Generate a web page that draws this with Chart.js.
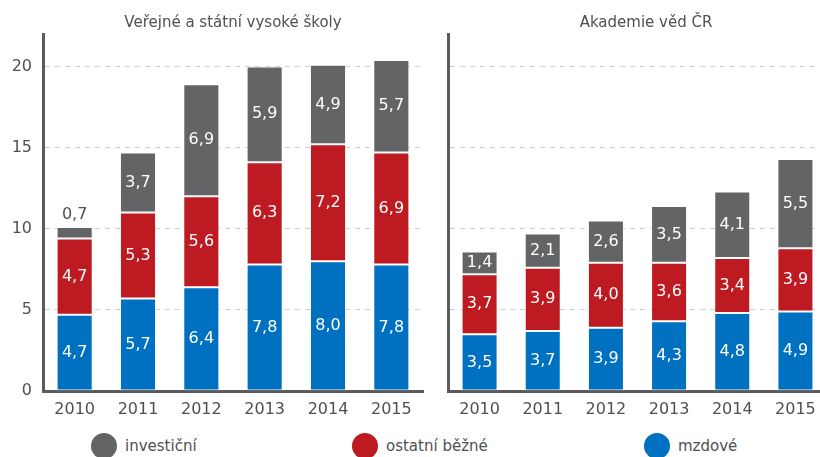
<!DOCTYPE html>
<html>
<head>
<meta charset="utf-8">
<script src="https://cdn.jsdelivr.net/npm/chart.js@4/dist/chart.umd.min.js"></script>
<style>
    html, body {
        margin: 0;
        padding: 0;
        background: #fff;
    }
    body {
        position: relative;
        width: 820px;
        height: 457px;
        overflow: hidden;
        font-family: "DejaVu Sans", sans-serif;
        color: #4f5052;
    }
    .panel {
        position: absolute;
        top: 0;
    }
    .panel-title {
        position: absolute;
        top: 13px;
        font-size: 15px;
        white-space: nowrap;
        transform: translateX(-50%);
    }
    .legend-item {
        position: absolute;
        top: 433px;
        display: flex;
        align-items: center;
        font-size: 15px;
        white-space: nowrap;
    }
    .legend-item .dot {
        width: 26px;
        height: 26px;
        border-radius: 50%;
        margin-right: 8px;
    }
</style>
</head>
<body>
<div class="panel" style="left:0;width:430px;height:425px"><canvas id="chart-vs"></canvas></div>
<div class="panel" style="left:430px;width:400px;height:425px"><canvas id="chart-av"></canvas></div>

<div class="panel-title" style="left:233px">Veřejné a státní vysoké školy</div>
<div class="panel-title" style="left:646px">Akademie věd ČR</div>

<div id="legend"></div>

<script>
// data
const years = ['2010', '2011', '2012', '2013', '2014', '2015'];
const seriesNames = ['mzdové', 'ostatní běžné', 'investiční'];
const seriesColors = ['#0070c0', '#be1a21', '#636466'];

// Veřejné a státní vysoké školy
const vsMzdove = [4.7, 5.7, 6.4, 7.8, 8.0, 7.8];
const vsOstatni = [4.7, 5.3, 5.6, 6.3, 7.2, 6.9];
const vsInvesticni = [0.7, 3.7, 6.9, 5.9, 4.9, 5.7];

// Akademie věd ČR
const avMzdove = [3.5, 3.7, 3.9, 4.3, 4.8, 4.9];
const avOstatni = [3.7, 3.9, 4.0, 3.6, 3.4, 3.9];
const avInvesticni = [1.4, 2.1, 2.6, 3.5, 4.1, 5.5];

const yTicks = [0, 5, 10, 15, 20];
const yMax = 22;

const textColor = '#4f5052';
const axisColor = '#5a5b5d';
const gridColor = '#cfcfcf';
const fontFamily = '"DejaVu Sans", sans-serif';

// labels written inside the segments, small ones go above the bar
const segmentLabels = {
    id: 'segmentLabels',
    afterDatasetsDraw(chart) {
        const ctx = chart.ctx;
        ctx.save();
        ctx.font = '16px ' + fontFamily;
        ctx.textAlign = 'center';
        ctx.textBaseline = 'middle';
        chart.data.datasets.forEach((ds, i) => {
            const meta = chart.getDatasetMeta(i);
            meta.data.forEach((bar, j) => {
                const value = ds.data[j];
                const text = value.toFixed(1).replace('.', ',');
                const { x, y, base } = bar.getProps(['x', 'y', 'base'], true);
                if (value < 1) {
                    ctx.fillStyle = textColor;
                    ctx.fillText(text, x, y - 12);
                } else {
                    ctx.fillStyle = '#ffffff';
                    ctx.fillText(text, x, (y + base) / 2);
                }
            });
        });
        ctx.restore();
    }
};

function makeDatasets(values) {
    return values.map((data, i) => ({
        label: seriesNames[i],
        data: data,
        backgroundColor: seriesColors[i],
        borderColor: 'rgba(255,255,255,0.35)',
        borderWidth: 1,
        borderSkipped: false,
        barPercentage: 0.57,
        categoryPercentage: 1
    }));
}

function makeChart(canvasId, values, opts) {
    return new Chart(document.getElementById(canvasId), {
        type: 'bar',
        data: {
            labels: years,
            datasets: makeDatasets(values)
        },
        options: {
            responsive: true,
            maintainAspectRatio: false,
            animation: false,
            layout: {
                padding: { top: 34, right: opts.padRight, left: 0, bottom: 0 }
            },
            plugins: {
                legend: { display: false },
                tooltip: { enabled: false }
            },
            scales: {
                x: {
                    stacked: true,
                    grid: { display: false, drawTicks: false },
                    border: { display: true, color: axisColor, width: 3 },
                    ticks: {
                        color: textColor,
                        font: { family: fontFamily, size: 16 },
                        padding: 9
                    },
                    afterFit(scale) { scale.height = 34; }
                },
                y: {
                    stacked: true,
                    min: 0,
                    max: yMax,
                    afterBuildTicks(scale) {
                        scale.ticks = yTicks.map(v => ({ value: v }));
                    },
                    grid: {
                        color: (c) => c.tick && c.tick.value === 0 ? 'rgba(0,0,0,0)' : gridColor,
                        lineWidth: 1,
                        drawTicks: false
                    },
                    border: { display: true, color: axisColor, width: 3, dash: [5, 5] },
                    ticks: {
                        display: opts.showTicks,
                        color: textColor,
                        font: { family: fontFamily, size: 16 },
                        padding: 11
                    },
                    afterFit(scale) { scale.width = opts.axisWidth; }
                }
            }
        },
        plugins: [segmentLabels]
    });
}

function buildLegend() {
    const legend = document.getElementById('legend');
    const items = [
        { name: seriesNames[2], color: seriesColors[2], left: 91 },
        { name: seriesNames[1], color: seriesColors[1], left: 352 },
        { name: seriesNames[0], color: seriesColors[0], left: 644 }
    ];
    items.forEach(item => {
        const el = document.createElement('div');
        el.className = 'legend-item';
        el.style.left = item.left + 'px';
        el.innerHTML = `<span class="dot" style="background:${item.color}"></span><span>${item.name}</span>`;
        legend.appendChild(el);
    });
}

makeChart('chart-vs', [vsMzdove, vsOstatni, vsInvesticni], { padRight: 7, axisWidth: 43, showTicks: true });
makeChart('chart-av', [avMzdove, avOstatni, avInvesticni], { padRight: 3, axisWidth: 18, showTicks: false });
buildLegend();
</script>
</body>
</html>
